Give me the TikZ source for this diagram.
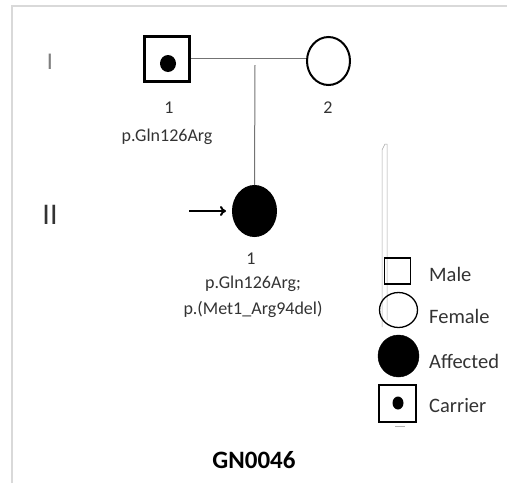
\documentclass[tikz,border=0pt]{standalone}
\usepackage{fontspec}
\setmainfont{Carlito}
\usetikzlibrary{arrows.meta,shapes.geometric}
\definecolor{framegray}{HTML}{D9D9D9}
\definecolor{gengray}{HTML}{7F7F7F}
\definecolor{textgray}{HTML}{333333}
\tikzset{
  pedline/.style={line width=1pt, draw=black!55},
  maleped/.style={draw, rectangle, line width=3pt, minimum size=45pt, inner sep=0pt},
  femaleped/.style={draw, ellipse, line width=2pt, minimum width=43pt, minimum height=48pt, inner sep=0pt},
  affectedped/.style={fill=black, draw, ellipse, line width=1pt, minimum width=44pt, minimum height=51pt, inner sep=0pt},
  lbl/.style={font=\fontsize{18}{21}\selectfont, text=textgray, inner sep=0pt},
  keytext/.style={font=\fontsize{20.5}{23}\selectfont, text=textgray, anchor=west, inner sep=0pt},
}
\begin{document}
\begin{tikzpicture}[x=1pt,y=-1pt]
  \useasboundingbox (0,0) rectangle (507,483);
  % frame edges
  \draw[framegray, line width=2pt] (12,483) -- (12,6) -- (507,6);

  % generation numerals
  \node[font=\fontsize{24}{24}\selectfont, text=gengray, inner sep=0pt] (genI) at (50,62) {I};
  \node[font=\fontsize{30}{30}\selectfont, text=textgray, inner sep=0pt] (genII) at (50,215) {II};

  % generation I
  \node[maleped] (I1) at (167,58.5) {};
  \fill (168,63.5) ellipse (8pt and 8.5pt);
  \node[femaleped] (I2) at (328.5,61) {};
  \draw[pedline] (I1.east) -- (I1.east -| I2.west);
  \node[lbl] (I1n) at (169,108) {1};
  \node[lbl] (I1g) at (167,137) {p.Gln126Arg};
  \node[lbl] (I2n) at (328,108) {2};

  % generation II
  \node[affectedped] (II1) at (254.5,211) {};
  \coordinate (sib) at (255,65);
  \draw[pedline] (sib) -- (II1.north);
  \coordinate (proband) at (189,211);
  \draw[line width=2pt, -{To[length=6pt,width=10pt]}, shorten >=6pt] (proband) -- (II1.west);
  \node[lbl] (II1n) at (251,259) {1};
  \node[lbl] (II1g) at (253,284) {p.Gln126Arg;};
  \node[lbl] (II1h) at (253,309) {p.(Met1\_Arg94del)};

  % key
  \draw[black!35, line width=0.5pt] (382,327) -- (382,150) -- (385,144) -- (387,144) -- (387,320);
  \node[draw, rectangle, line width=1.3pt, minimum size=26pt, inner sep=0pt] (kmale) at (397.5,271) {};
  \node[draw, ellipse, line width=1.3pt, minimum width=38pt, minimum height=35pt, inner sep=0pt] (kfemale) at (398.5,310) {};
  \node[fill=black, draw, ellipse, minimum width=41pt, minimum height=42pt, inner sep=0pt] (kaff) at (398.5,356) {};
  \node[draw, rectangle, line width=2pt, minimum size=37pt, inner sep=0pt] (kcar) at (397,403.5) {};
  \fill (398,403) ellipse (5.5pt and 6.5pt);
  \draw[black!30, line width=1pt] (395,426) -- (405,426);
  \node[keytext] (tmale) at (429,274) {Male};
  \node[keytext] (tfemale) at (429,316) {Female};
  \node[keytext] (taff) at (429,361) {Affected};
  \node[keytext] (tcar) at (429,406) {Carrier};

  % family identifier
  \node[font=\fontsize{25}{27}\selectfont\bfseries, inner sep=0pt] (fam) at (254,460) {GN0046};
\end{tikzpicture}
\end{document}
